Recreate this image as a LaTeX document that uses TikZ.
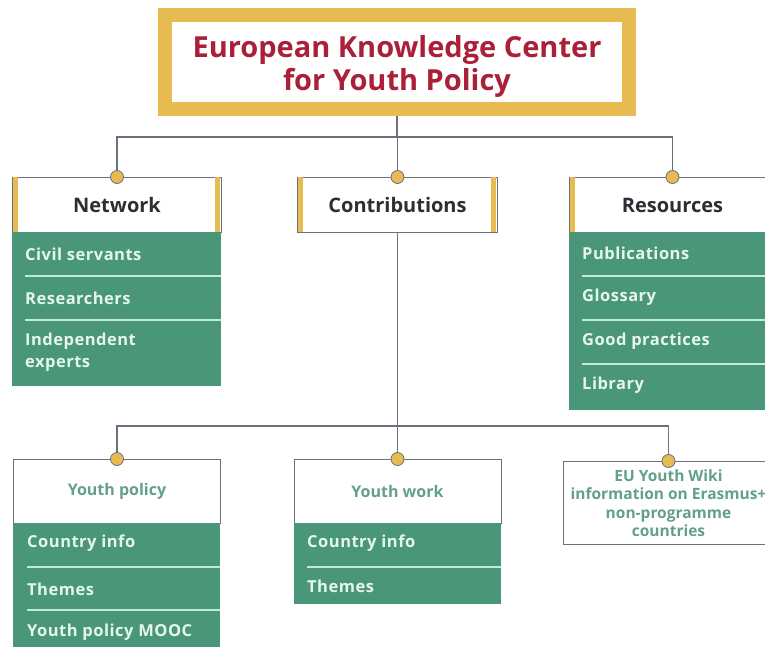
\documentclass[tikz,border=0pt]{standalone}
\usepackage{fontspec}
\setmainfont{Open Sans}
\definecolor{leaf}{RGB}{74,150,120}
\definecolor{mint}{RGB}{190,235,215}
\definecolor{itemtxt}{RGB}{228,246,238}
\definecolor{gold}{RGB}{232,186,82}
\definecolor{wire}{RGB}{108,112,126}
\definecolor{brick}{RGB}{170,32,56}
\definecolor{ink}{RGB}{45,45,52}
\definecolor{softleaf}{RGB}{98,160,136}
\tikzset{
  conn/.style={draw=wire, line width=1.2pt},
  titletext/.style={anchor=base, inner sep=0pt, text=brick, font=\fontsize{29}{33}\selectfont\bfseries},
  hdr/.style={draw=wire, line width=1pt, fill=white, anchor=north west, inner sep=0pt,
    font=\fontsize{20}{22}\selectfont\bfseries, text=ink},
  subhdr/.style={draw=wire, line width=1pt, fill=white, anchor=north west, inner sep=0pt,
    font=\fontsize{16}{18.5}\selectfont\bfseries, text=softleaf, align=center},
  body/.style={fill=leaf, anchor=north west, inner sep=0pt},
  item/.style={anchor=west, inner sep=0pt, text=itemtxt, align=left,
    font=\fontsize{16.5}{22}\selectfont\bfseries\addfontfeatures{LetterSpace=3}},
  sep/.style={draw=mint, line width=1.2pt},
  goldbar/.style={fill=gold},
  dot/.style={circle, fill=gold, draw=wire, line width=0.8pt, minimum size=13pt, inner sep=0pt}
}
\begin{document}
\begin{tikzpicture}[x=1pt,y=-1pt]
\useasboundingbox (0,0) rectangle (765,647);
\clip (0,0) rectangle (765,647);
\fill[white] (0,0) rectangle (765,647);

% title frame and its two lines
\node (title) [draw=gold, line width=14pt, fill=white, minimum width=464pt, minimum height=94pt] at (397,62) {};
\node (titleA) [titletext] at (397,58) {European Knowledge Center};
\node (titleB) [titletext] at (397,91) {for Youth Policy};

% upper bus
\draw[conn] (title.south) -- ++(0,21) coordinate (bus);

% first level headers
\node (net) [hdr, minimum width=209pt, minimum height=55pt] at (12,177) {Network};
\node (con) [hdr, minimum width=200pt, minimum height=55pt] at (297,177) {Contributions};
\node (res) [hdr, minimum width=206pt, minimum height=55pt] at (569,177) {Resources};
\fill[goldbar] (13,177.5) rectangle (18,232);
\fill[goldbar] (215,177.5) rectangle (220,232);
\fill[goldbar] (298,177.5) rectangle (303,232);
\fill[goldbar] (491,177.5) rectangle (496,232);
\fill[goldbar] (570,177.5) rectangle (575,232);

\draw[conn] (bus) -| (net.north);
\draw[conn] (bus) -| (res.north);
\draw[conn] (bus) -| (con.north);

% Network list
\node (netb) [body, minimum width=209pt, minimum height=154pt] at (12,232) {};
\node (n1) [item] at (25,254) {Civil servants};
\node (n2) [item] at (25,298) {Researchers};
\node (n3) [item] at (25,352) {Independent\\experts};
\draw[sep] (25,276) -- (221,276);
\draw[sep] (25,320) -- (221,320);

% Resources list
\node (resb) [body, minimum width=206pt, minimum height=178pt] at (569,232) {};
\node (r1) [item] at (582,253) {Publications};
\node (r2) [item] at (582,297) {Glossary};
\node (r3) [item] at (582,341) {Good practices};
\node (r4) [item] at (582,385) {Library};
\draw[sep] (582,276) -- (775,276);
\draw[sep] (582,320) -- (775,320);
\draw[sep] (582,364) -- (775,364);

% lower bus
\draw[conn] (con.south) -- ++(0,193) coordinate (bus2);

% second level
\node (yp) [subhdr, minimum width=207pt, minimum height=64pt] at (13,459) {Youth policy};
\node (yw) [subhdr, minimum width=207pt, minimum height=64pt] at (293.5,459) {Youth work};
\node (wiki) [subhdr, minimum width=210pt, minimum height=83pt,
  font=\fontsize{15.5}{18.5}\selectfont\bfseries] at (563,461)
  {EU Youth Wiki\\information on Erasmus+\\non-programme\\countries};

\draw[conn] (bus2) -| (yp.north);
\draw[conn] (bus2) -| (wiki.north);
\draw[conn] (bus2) -| (yw.north);

% Youth policy list
\node (ypb) [body, minimum width=207pt, minimum height=140pt] at (13,523) {};
\node (p1) [item] at (27,543) {Country info};
\node (p2) [item] at (27,589) {Themes};
\node (p3) [item] at (27,632) {Youth policy MOOC};
\draw[sep] (27,567) -- (220,567);
\draw[sep] (27,610) -- (220,610);

% Youth work list
\node (ywb) [body, minimum width=207pt, minimum height=81pt] at (293.5,523) {};
\node (w1) [item] at (307,543) {Country info};
\node (w2) [item] at (307,586) {Themes};
\draw[sep] (307,567) -- (500.5,567);

% junction dots
\node[dot] at (net.north) {};
\node[dot] at (con.north) {};
\node[dot] at (res.north) {};
\node[dot] at (yp.north) {};
\node[dot] at (yw.north) {};
\node[dot] at (wiki.north) {};
\end{tikzpicture}
\end{document}
